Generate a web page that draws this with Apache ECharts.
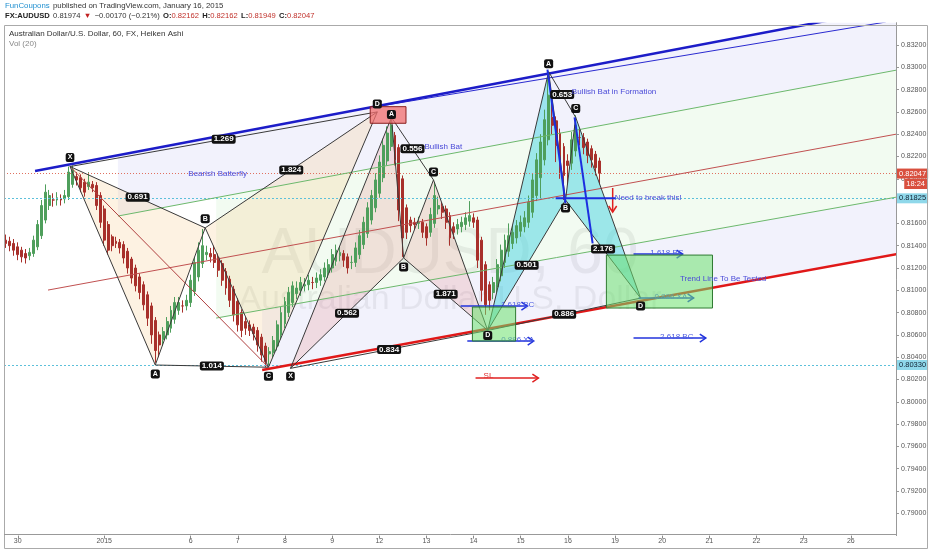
<!DOCTYPE html>
<html><head><meta charset="utf-8">
<script src="https://cdn.jsdelivr.net/npm/echarts@6/dist/echarts.min.js"></script>
<style>html,body{margin:0;padding:0;background:#fff}#c{width:932px;height:550px}</style>
</head><body><div id="c"></div>
<script>
// ---------- DATA (2-hour Heiken Ashi bars) ----------
const haOpen = [
0.8145,0.8144,0.8142,0.8139,0.8136,0.8133,0.8131,0.8133,0.8139,0.8149,
0.8163,0.8176,0.8181,0.8181,0.8182,0.8182,0.8184,0.8195,0.8202,0.8201,
0.8197,0.8193,0.8195,0.8194,0.8185,0.8173,0.8159,0.8148,0.8144,0.8143,
0.8141,0.8135,0.8128,0.8120,0.8112,0.8105,0.8096,0.8086,0.8073,0.8060,
0.8056,0.8060,0.8066,0.8074,0.8082,0.8086,0.8086,0.8089,0.8099,0.8112,
0.8124,0.8132,0.8133,0.8132,0.8129,0.8124,0.8117,0.8110,0.8101,0.8090,
0.8080,0.8072,0.8069,0.8067,0.8064,0.8058,0.8050,0.8043,0.8044,0.8050,
0.8060,0.8070,0.8080,0.8089,0.8097,0.8100,0.8104,0.8105,0.8107,0.8107,
0.8109,0.8112,0.8116,0.8120,0.8126,0.8131,0.8133,0.8130,0.8125,0.8125,
0.8132,0.8141,0.8151,0.8163,0.8174,0.8187,0.8201,0.8216,0.8229,0.8239,
0.8228,0.8200,0.8174,0.8163,0.8161,0.8160,0.8161,0.8157,0.8152,0.8160,
0.8173,0.8175,0.8173,0.8167,0.8157,0.8155,0.8157,0.8159,0.8162,0.8165,
0.8163,0.8145,0.8123,0.8105,0.8098,0.8103,0.8113,0.8125,0.8135,0.8142,
0.8147,0.8153,0.8157,0.8161,0.8170,0.8185,0.8201,0.8217,0.8235,0.8255,
0.8252,0.8241,0.8229,0.8216,0.8214,0.8225,0.8237,0.8237,0.8233,0.8227,
0.8222,0.8216];
const haClose = [
0.8142,0.8140,0.8136,0.8132,0.8130,0.8129,0.8134,0.8145,0.8159,0.8176,
0.8188,0.8185,0.8181,0.8183,0.8181,0.8185,0.8206,0.8208,0.8199,0.8192,
0.8188,0.8197,0.8192,0.8176,0.8161,0.8145,0.8136,0.8140,0.8142,0.8138,
0.8129,0.8120,0.8111,0.8104,0.8098,0.8087,0.8075,0.8060,0.8046,0.8051,
0.8063,0.8072,0.8082,0.8089,0.8089,0.8086,0.8091,0.8109,0.8125,0.8136,
0.8140,0.8134,0.8130,0.8125,0.8118,0.8109,0.8102,0.8091,0.8078,0.8069,
0.8064,0.8066,0.8064,0.8061,0.8051,0.8042,0.8036,0.8045,0.8055,0.8069,
0.8080,0.8090,0.8098,0.8104,0.8102,0.8107,0.8105,0.8109,0.8107,0.8111,
0.8114,0.8120,0.8123,0.8132,0.8136,0.8134,0.8127,0.8120,0.8125,0.8138,
0.8149,0.8161,0.8174,0.8185,0.8199,0.8215,0.8230,0.8241,0.8248,0.8217,
0.8172,0.8147,0.8152,0.8158,0.8159,0.8161,0.8152,0.8147,0.8168,0.8185,
0.8176,0.8170,0.8161,0.8147,0.8152,0.8159,0.8161,0.8165,0.8167,0.8161,
0.8127,0.8100,0.8087,0.8091,0.8107,0.8123,0.8136,0.8145,0.8149,0.8152,
0.8158,0.8161,0.8165,0.8179,0.8199,0.8217,0.8233,0.8253,0.8275,0.8248,
0.8230,0.8217,0.8203,0.8212,0.8235,0.8248,0.8237,0.8228,0.8221,0.8217,
0.8210,0.8205];
const haHigh = [
0.8150,0.8148,0.8146,0.8143,0.8139,0.8137,0.8138,0.8149,0.8163,0.8181,
0.8195,0.8190,0.8187,0.8188,0.8186,0.8190,0.8211,0.8212,0.8206,0.8204,
0.8200,0.8206,0.8198,0.8197,0.8188,0.8176,0.8162,0.8150,0.8148,0.8146,
0.8144,0.8138,0.8130,0.8123,0.8115,0.8108,0.8099,0.8089,0.8076,0.8063,
0.8067,0.8076,0.8086,0.8094,0.8094,0.8091,0.8096,0.8114,0.8130,0.8143,
0.8155,0.8140,0.8138,0.8140,0.8133,0.8127,0.8120,0.8113,0.8104,0.8093,
0.8083,0.8076,0.8073,0.8070,0.8067,0.8061,0.8053,0.8049,0.8059,0.8073,
0.8085,0.8094,0.8103,0.8108,0.8108,0.8112,0.8111,0.8114,0.8112,0.8116,
0.8119,0.8125,0.8128,0.8137,0.8141,0.8139,0.8136,0.8133,0.8131,0.8143,
0.8154,0.8166,0.8179,0.8190,0.8205,0.8221,0.8236,0.8247,0.8257,0.8242,
0.8231,0.8203,0.8177,0.8166,0.8165,0.8166,0.8164,0.8160,0.8174,0.8197,
0.8184,0.8179,0.8176,0.8170,0.8161,0.8164,0.8166,0.8170,0.8180,0.8169,
0.8166,0.8148,0.8126,0.8108,0.8112,0.8128,0.8141,0.8150,0.8160,0.8158,
0.8163,0.8167,0.8171,0.8185,0.8205,0.8223,0.8240,0.8262,0.8296,0.8270,
0.8256,0.8245,0.8232,0.8222,0.8242,0.8257,0.8245,0.8241,0.8236,0.8230,
0.8225,0.8219];
const haLow = [
0.8138,0.8135,0.8131,0.8127,0.8125,0.8124,0.8127,0.8130,0.8136,0.8146,
0.8160,0.8172,0.8175,0.8176,0.8176,0.8178,0.8181,0.8192,0.8194,0.8188,
0.8184,0.8190,0.8188,0.8172,0.8156,0.8140,0.8132,0.8135,0.8138,0.8133,
0.8124,0.8115,0.8106,0.8099,0.8092,0.8082,0.8068,0.8052,0.8035,0.8040,
0.8050,0.8056,0.8062,0.8070,0.8078,0.8080,0.8082,0.8085,0.8095,0.8108,
0.8120,0.8127,0.8125,0.8120,0.8112,0.8104,0.8096,0.8085,0.8072,0.8063,
0.8058,0.8060,0.8059,0.8055,0.8045,0.8036,0.8031,0.8033,0.8040,0.8046,
0.8056,0.8066,0.8076,0.8085,0.8092,0.8095,0.8099,0.8100,0.8101,0.8102,
0.8104,0.8108,0.8111,0.8116,0.8122,0.8126,0.8121,0.8115,0.8119,0.8121,
0.8128,0.8137,0.8147,0.8159,0.8170,0.8183,0.8197,0.8212,0.8225,0.8212,
0.8162,0.8130,0.8146,0.8152,0.8154,0.8155,0.8147,0.8140,0.8148,0.8156,
0.8168,0.8164,0.8155,0.8140,0.8146,0.8150,0.8152,0.8154,0.8157,0.8156,
0.8120,0.8090,0.8078,0.8082,0.8092,0.8098,0.8108,0.8120,0.8130,0.8137,
0.8142,0.8148,0.8152,0.8156,0.8165,0.8180,0.8181,0.8212,0.8230,0.8240,
0.8215,0.8200,0.8181,0.8195,0.8208,0.8220,0.8230,0.8222,0.8214,0.8210,
0.8203,0.8195];

// time axis: 2-hour slots (12 per day)
const slotCount = 227;
const dayLabels = ['30','2015','6','7','8','9','12','13','14','15','16','19','20','21','22','23','26'];
const dayLabelSlots = [3,25,47,59,71,83,95,107,119,131,143,155,167,179,191,203,215];

// price axis
const priceMin = 0.788, priceMax = 0.834, priceStep = 0.002;
const lastPrice = 0.82047, breakLevel = 0.81825, stopLevel = 0.80330;
const countdown = '18:24';

// drawings, as [slot, price]
const butterfly = {X:[16.3,0.8211], A:[38.0,0.8033], B:[50.7,0.8156], C:[66.8,0.8031], D:[94.5,0.8260]};
const butterflyRatios = [['0.691','X','B'],['1.014','A','C'],['1.824','B','D'],['1.269','X','D']];
const bat = {X:[72.4,0.8030], A:[98.1,0.8255], B:[101.2,0.8129], C:[108.8,0.8199], D:[122.6,0.8064]};
const batRatios = [['0.562','X','B'],['0.556','A','C'],['1.871','B','D'],['0.834','X','D']];
const batNew = {X:[122.6,0.8064], A:[138.1,0.8296], B:[142.4,0.8181], C:[145.0,0.8255], D:[161.5,0.8093]};
const batNewRatios = [['0.653','A','C'],['0.501','X','B'],['2.176','B','D'],['0.886','X','D']];

const trendBlue = [[7.4,0.8207],[209.9,0.83424]];
const trendBlueThin = [[95.3,0.82653],[223.9,0.83406]];
const trendRed = [[65.2,0.80285],[226.8,0.81325]];
const channelGreenUp = [[28.5,0.81666],[226.8,0.82976]];
const channelRedMid = [[10.7,0.81002],[226.8,0.82402]];
const channelGreenLow = [[53.5,0.80751],[226.8,0.81837]];
const butterflyXC = [[16.3,0.8211],[66.8,0.8031]];

const greenZones = [[118.7,0.80850,129.7,0.80545],[152.8,0.81316,179.8,0.80841]];
const redZone = [92.7,0.82647,101.8,0.82498];
const blueStrokes = [[[137.8,0.8298],[142.4,0.8178]],[[144.7,0.8255],[149.3,0.8142]],[[139.9,0.81825],[155.2,0.81825]]];
// [from slot, to slot, price, text, text slot]
const blueArrows = [
  [115.7,132.7,0.80859,'1.618 BC',130.2],
  [117.4,134.3,0.80545,'0.886 XA',130.2],
  [159.7,172.2,0.81325,'1.618 BC',168.2],
  [161.0,175.0,0.80931,'0.886 XA',169.2],
  [159.7,178.1,0.80572,'2.618 BC',170.7]];
const slArrow = [119.5,135.5,0.80213,'SL',122.8];
const breakArrow = [154.4,0.81917,0.81702];
const notes = [
  ['Bearish Batterfly',46.4,0.82043],
  ['Bullish Bat',106.5,0.82285],
  ['Bullish Bat in Formation',144.0,0.82778],
  ['Need to break this!',154.9,0.81828],
  ['Trend Line To Be Tested',171.5,0.81101]];

// ---------- CHART ----------
const FONT = '"Liberation Sans", Arial, sans-serif';
const labelBySlot = {};
dayLabelSlots.forEach((s, i) => { labelBySlot[s] = dayLabels[i]; });
const slotNames = Array.from({length: slotCount}, (_, i) => String(i));
const candles = haOpen.map((o, i) => [o, haClose[i], haLow[i], haHigh[i]]);

function lineAt(line, s) {
  const a = line[0], b = line[1];
  return a[1] + (b[1] - a[1]) * (s - a[0]) / (b[0] - a[0]);
}

function renderBack(params, api) {
  const c = p => api.coord(p);
  const poly = (pts, fill) => ({type: 'polygon', shape: {points: pts.map(c)}, style: {fill: fill}});
  const end = slotCount - 0.5;
  const band = (up, lo, s0, fill) => poly([[s0, lineAt(up, s0)], [end, lineAt(up, end)], [end, lineAt(lo, end)], [s0, lineAt(lo, s0)]], fill);
  const ch = [
    band(trendBlue, channelGreenUp, channelGreenUp[0][0], 'rgba(175,180,235,0.17)'),
    band(channelGreenUp, channelGreenLow, channelGreenLow[0][0], 'rgba(175,228,165,0.16)'),
    band(channelGreenLow, trendRed, trendRed[0][0], 'rgba(175,180,235,0.17)'),
    poly([butterfly.X, butterfly.A, butterfly.B], 'rgba(245,195,125,0.22)'),
    poly([butterfly.B, butterfly.C, butterfly.D], 'rgba(245,195,125,0.22)'),
    poly([bat.X, bat.A, bat.B], 'rgba(228,130,130,0.22)'),
    poly([bat.B, bat.C, bat.D], 'rgba(228,130,130,0.22)'),
    poly([batNew.X, batNew.A, batNew.B], 'rgba(70,212,226,0.5)'),
    poly([batNew.B, batNew.C, batNew.D], 'rgba(70,212,226,0.5)')
  ];
  return {type: 'group', children: ch};
}

function renderFront(params, api) {
  const c = p => api.coord(p);
  const ch = [];
  const seg = (a, b, color, w, dash) => {
    const p1 = c(a), p2 = c(b);
    ch.push({type: 'line', shape: {x1: p1[0], y1: p1[1], x2: p2[0], y2: p2[1]}, style: {stroke: color, lineWidth: w, lineDash: dash || null}});
  };
  const arrowHead = (tip, dir, color, w) => {
    const t = c(tip);
    const pts = dir === 'right' ? [[t[0] - 6, t[1] - 4], t, [t[0] - 6, t[1] + 4]] : [[t[0] - 4, t[1] - 6], t, [t[0] + 4, t[1] - 6]];
    ch.push({type: 'polyline', shape: {points: pts}, style: {stroke: color, lineWidth: w, fill: null}});
  };
  const text = (str, pos, opt) => {
    const p = c(pos);
    ch.push({type: 'text', x: p[0] + (opt.dx || 0), y: p[1] + (opt.dy || 0), style: Object.assign({text: str, font: opt.font || ('8px ' + FONT), fill: opt.fill || '#4a4ad6', align: opt.align || 'left', verticalAlign: 'middle'}, opt.extra || {})});
  };

  seg(channelGreenUp[0], channelGreenUp[1], '#6cb86c', 1);
  seg(channelRedMid[0], channelRedMid[1], '#c05050', 1);
  seg(channelGreenLow[0], channelGreenLow[1], '#6cb86c', 1);
  seg(butterflyXC[0], butterflyXC[1], '#b04040', 1);
  seg(trendBlueThin[0], trendBlueThin[1], '#2a2ad0', 1);
  seg(trendBlue[0], trendBlue[1], '#1c1cc8', 2.5);
  seg(trendRed[0], trendRed[1], '#e01818', 2.5);

  const pattern = (pt, ratios) => {
    const order = ['X', 'A', 'B', 'C', 'D'];
    for (let i = 0; i < 4; i++) seg(pt[order[i]], pt[order[i + 1]], '#3a3a3a', 1);
    ratios.forEach(r => seg(pt[r[1]], pt[r[2]], '#3a3a3a', 1));
  };
  pattern(butterfly, butterflyRatios);
  pattern(bat, batRatios);
  pattern(batNew, batNewRatios);

  const rect = (z, fill, stroke) => {
    const p1 = c([z[0], z[1]]), p2 = c([z[2], z[3]]);
    ch.push({type: 'rect', shape: {x: p1[0], y: p1[1], width: p2[0] - p1[0], height: p2[1] - p1[1]}, style: {fill: fill, stroke: stroke, lineWidth: 1}});
  };

  blueArrows.forEach(a => {
    seg([a[0], a[2]], [a[1], a[2]], '#2233dd', 1.5);
    arrowHead([a[1], a[2]], 'right', '#2233dd', 1.5);
    text(a[3], [a[4], a[2]], {align: 'center', dy: -1, fill: '#4a5ae0'});
  });
  greenZones.forEach(z => rect(z, 'rgba(110,225,110,0.55)', '#2f7a32'));
  rect(redZone, 'rgba(240,110,110,0.75)', '#8a2020');

  seg([slArrow[0], slArrow[2]], [slArrow[1], slArrow[2]], '#e02020', 1.5);
  arrowHead([slArrow[1], slArrow[2]], 'right', '#e02020', 1.5);
  text(slArrow[3], [slArrow[4], slArrow[2]], {align: 'center', dy: -2, fill: '#e03030'});
  seg([breakArrow[0], breakArrow[1]], [breakArrow[0], breakArrow[2]], '#e02020', 1.5);
  arrowHead([breakArrow[0], breakArrow[2]], 'down', '#e02020', 1.5);

  blueStrokes.forEach(s => seg(s[0], s[1], '#1c2ee0', 2));

  const ratioLabels = (pt, ratios) => ratios.forEach(r => {
    const a = pt[r[1]], b = pt[r[2]];
    text(r[0], [(a[0] + b[0]) / 2, (a[1] + b[1]) / 2], {align: 'center', fill: '#fff', font: 'bold 8px ' + FONT,
      extra: {backgroundColor: '#111', padding: [0, 2], borderRadius: 2, lineHeight: 9}});
  });
  ratioLabels(butterfly, butterflyRatios);
  ratioLabels(bat, batRatios);
  ratioLabels(batNew, batNewRatios);

  const letter = (name, pos, dy) => text(name, pos, {align: 'center', dy: dy, fill: '#fff', font: 'bold 7px ' + FONT,
    extra: {backgroundColor: '#111', padding: [1, 2, 0, 2], borderRadius: 2, lineHeight: 8}});
  letter('X', butterfly.X, -9); letter('A', butterfly.A, 9); letter('B', butterfly.B, -9); letter('C', butterfly.C, 9); letter('D', butterfly.D, -8);
  letter('X', bat.X, 8); letter('A', bat.A, -3); letter('B', bat.B, 9); letter('C', bat.C, -8); letter('D', bat.D, 5);
  letter('A', batNew.A, -8); letter('B', batNew.B, 8); letter('C', batNew.C, -9); letter('D', batNew.D, 8);

  notes.forEach(n => text(n[0], [n[1], n[2]], {fill: '#4b4bd8'}));
  return {type: 'group', children: ch};
}

const chart = echarts.init(document.getElementById('c'));
const lineLabel = (txt, bg, fg) => ({show: true, position: 'end', distance: 1, formatter: txt, backgroundColor: bg, color: fg,
  fontSize: 7.5, fontFamily: FONT, padding: [1, 2, 0, 2], lineHeight: 9});

chart.setOption({
  animation: false,
  backgroundColor: '#fff',
  grid: {left: 4, right: 36, top: 22.7, bottom: 14.4, containLabel: false},
  xAxis: [{
    type: 'category', data: slotNames, boundaryGap: true,
    axisLine: {show: false},
    axisTick: {show: true, length: 3, alignWithLabel: true, interval: (i) => labelBySlot[i] !== undefined, lineStyle: {color: '#888'}},
    axisLabel: {interval: (i) => labelBySlot[i] !== undefined, formatter: (v, i) => labelBySlot[i] || '', fontSize: 7, color: '#555', margin: 2, fontFamily: FONT},
    splitLine: {show: false}
  }, {
    type: 'value', min: -0.5, max: slotCount - 0.5, show: false
  }],
  yAxis: {
    type: 'value', position: 'right', min: priceMin, max: priceMax, interval: priceStep, scale: true,
    axisLine: {show: true, onZero: false, lineStyle: {color: '#999'}},
    axisTick: {show: true, length: 3, lineStyle: {color: '#999'}},
    axisLabel: {showMinLabel: false, showMaxLabel: false, formatter: v => v.toFixed(5), fontSize: 7, color: '#555', margin: 5, fontFamily: FONT},
    splitLine: {show: false}
  },
  graphic: [
    {type: 'text', z: 0, x: 450, y: 255, style: {text: 'AUDUSD, 60', font: '64px ' + FONT, fill: 'rgba(0,0,0,0.07)', align: 'center', verticalAlign: 'middle'}},
    {type: 'text', z: 0, x: 450, y: 300, style: {text: 'Australian Dollar/U.S. Dollar', font: '34px ' + FONT, fill: 'rgba(0,0,0,0.07)', align: 'center', verticalAlign: 'middle'}},
    {type: 'text', z: 50, x: 5, y: 6, style: {
      text: '{b|FunCoupons} {n|published on TradingView.com, January 16, 2015}',
      verticalAlign: 'middle',
      rich: {b: {fill: '#1f8fd0', font: '7.8px ' + FONT}, n: {fill: '#333', font: '7.8px ' + FONT}}}},
    {type: 'text', z: 50, x: 5, y: 16, style: {
      text: '{k|FX:AUDUSD} {n|0.81974} {r|▼} {n|−0.00170 (−0.21%)} {k|O:}{v|0.82162} {k|H:}{v|0.82162} {k|L:}{v|0.81949} {k|C:}{v|0.82047}',
      verticalAlign: 'middle',
      rich: {k: {fill: '#222', font: 'bold 7.6px ' + FONT}, n: {fill: '#333', font: '7.6px ' + FONT},
        r: {fill: '#c02020', font: '7.6px ' + FONT}, v: {fill: '#c0302a', font: '7.6px ' + FONT}}}},
    {type: 'text', z: 50, x: 9, y: 34, style: {text: 'Australian Dollar/U.S. Dollar, 60, FX, Heiken Ashi', font: '8px ' + FONT, fill: '#333', verticalAlign: 'middle'}},
    {type: 'text', z: 50, x: 9, y: 44, style: {text: 'Vol (20)', font: '8px ' + FONT, fill: '#888', verticalAlign: 'middle'}},
    {type: 'rect', z: 50, shape: {x: 4.5, y: 25.5, width: 923, height: 523}, style: {fill: null, stroke: '#aaa', lineWidth: 1}},
    {type: 'line', z: 50, shape: {x1: 4, y1: 534.5, x2: 897, y2: 534.5}, style: {stroke: '#999', lineWidth: 1}},
    {type: 'text', z: 60, x: 927, y: 184, style: {text: countdown, font: '7.5px ' + FONT, fill: '#fff', backgroundColor: '#d9503f', padding: [1, 2, 0, 2], align: 'right', verticalAlign: 'middle', lineHeight: 9}}
  ],
  series: [
    {type: 'custom', z: 1, xAxisIndex: 1, clip: true, silent: true, data: [[0, 0.81]], renderItem: renderBack},
    {
      type: 'candlestick', z: 2, xAxisIndex: 0, data: candles, barWidth: 2.4, silent: true,
      itemStyle: {color: '#4f9f5c', color0: '#a8302b', borderColor: '#4f9f5c', borderColor0: '#a8302b', borderWidth: 1},
      markLine: {
        symbol: ['none', 'none'], silent: true, animation: false, precision: 5,
        data: [
          {yAxis: lastPrice, lineStyle: {color: '#e0705f', type: [1, 2], width: 1}, label: lineLabel(lastPrice.toFixed(5), '#d9503f', '#fff')},
          {yAxis: breakLevel, lineStyle: {color: '#5cc0da', type: [2, 2], width: 1}, label: lineLabel(breakLevel.toFixed(5), '#8fd8ea', '#123')},
          {yAxis: stopLevel, lineStyle: {color: '#5cc0da', type: [2, 2], width: 1}, label: lineLabel(stopLevel.toFixed(5), '#8fd8ea', '#123')}
        ]
      }
    },
    {type: 'custom', z: 5, xAxisIndex: 1, clip: true, silent: true, data: [[0, 0.81]], renderItem: renderFront}
  ]
});
</script>
</body></html>
